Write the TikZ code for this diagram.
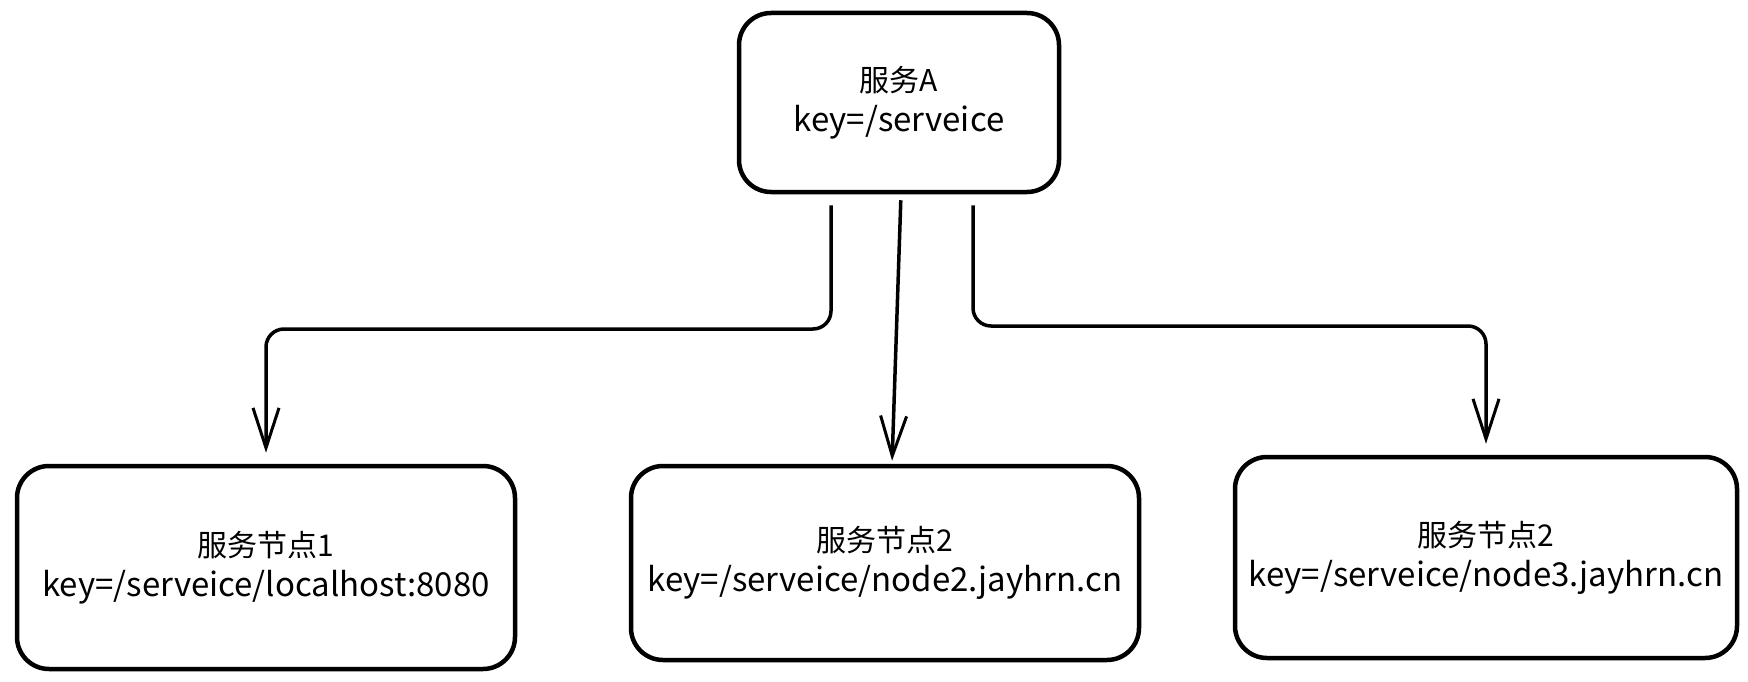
\documentclass[tikz,border=0pt]{standalone}
\usepackage{fontspec}
\newfontfamily\cjk{Noto Sans CJK SC}
\usetikzlibrary{arrows.meta,calc}
\newcommand{\firstline}[1]{{\fontsize{30}{40}\selectfont #1}}
\newcommand{\keyline}[1]{{\fontsize{33}{40}\selectfont #1}}
\begin{document}
\begin{tikzpicture}[x=1pt,y=-1pt,
  box/.style={draw=black, line width=4.5pt, rounded corners=32pt, align=center,
    font=\cjk\fontsize{30}{40}\selectfont, inner sep=0pt},
  arr/.style={draw=black, line width=3.5pt, rounded corners=18pt,
    -{Straight Barb[length=40pt,width=26pt,line width=3pt]}}]
\useasboundingbox (0,0) rectangle (1748,682);
\node[box, minimum width=320pt, minimum height=179pt] (A) at (899,102.5) {\firstline{服务A}\\\keyline{key=/serveice}};
\node[box, minimum width=498pt, minimum height=203pt] (B1) at (266,567.5) {\firstline{服务节点1}\\\keyline{key=/serveice/localhost:8080}};
\node[box, minimum width=508pt, minimum height=194pt] (B2) at (885,563) {\firstline{服务节点2}\\\keyline{key=/serveice/node2.jayhrn.cn}};
\node[box, minimum width=502pt, minimum height=201pt] (B3) at (1486,557.5) {\firstline{服务节点2}\\\keyline{key=/serveice/node3.jayhrn.cn}};
\coordinate (l1) at (831,329);
\coordinate (r1) at (973,326);
\draw[arr, shorten <=11pt, shorten >=11pt] (A.south -| l1) -- (l1) -- (l1 -| B1.north) -- (B1.north);
\draw[arr, shorten <=11pt, shorten >=11pt] (A.south -| r1) -- (r1) -- (r1 -| B3.north) -- (B3.north);
\draw[arr, shorten <=6pt, shorten >=3pt] ([xshift=2pt]A.south) -- ([xshift=7pt]B2.north);
\end{tikzpicture}
\end{document}
